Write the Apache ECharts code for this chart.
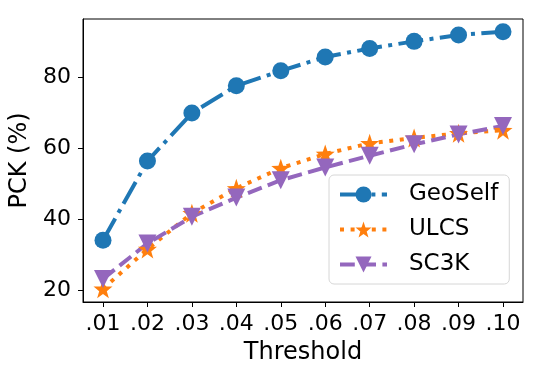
<!DOCTYPE html>
<html>
<head>
<meta charset="utf-8">
<script src="https://cdn.jsdelivr.net/npm/echarts@6/dist/echarts.min.js"></script>
<style>
  html, body { margin: 0; padding: 0; background: #fff; }
  #main { width: 550px; height: 370px; }
</style>
</head>
<body>
<div id="main"></div>
<script>
var myChart = echarts.init(document.getElementById("main"));

const thresholds = [0.01, 0.02, 0.03, 0.04, 0.05, 0.06, 0.07, 0.08, 0.09, 0.10];
const geoSelf = [34.0, 56.3, 69.8, 77.5, 81.7, 85.6, 88.0, 90.0, 91.8, 92.7];
const ulcs = [20.3, 31.5, 41.6, 48.6, 54.3, 58.3, 61.3, 62.8, 64.1, 65.0];
const sc3k = [23.1, 33.1, 40.6, 46.0, 50.9, 54.5, 57.8, 61.0, 63.8, 66.2];
const yTicks = [20, 40, 60, 80];

const font = "DejaVu Sans";

function pairs(vals) {
  return thresholds.map(function (t, i) { return [t, vals[i]]; });
}

option = {
  animation: false,
  textStyle: { fontFamily: font, color: "#000" },
  grid: {
    left: 83, right: 27, top: 19, bottom: 67,
    show: true, borderColor: "#000", borderWidth: 1
  },
  legend: {
    orient: "vertical",
    left: 329,
    top: 175,
    padding: [8, 11, 8, 9],
    borderColor: "#d6d6d6",
    borderWidth: 1,
    borderRadius: 5,
    itemWidth: 47,
    itemHeight: 20,
    itemGap: 12,
    lineStyle: { width: 4 },
    textStyle: { fontFamily: font, fontSize: 23, color: "#000", padding: [0, 0, 0, 17] },
    data: ["GeoSelf", "ULCS", "SC3K"]
  },
  xAxis: {
    type: "value",
    min: 0.0055,
    max: 0.1045,
    name: "Threshold",
    nameLocation: "middle",
    nameGap: 39,
    nameTextStyle: { fontSize: 24, color: "#000" },
    axisLine: { show: true, onZero: false, lineStyle: { color: "#000" } },
    axisTick: { show: true, length: 5, lineStyle: { color: "#000" }, customValues: thresholds },
    axisLabel: {
      fontSize: 22, color: "#000", margin: 11,
      customValues: thresholds,
      formatter: function (v) { return v.toFixed(2).slice(1); }
    },
    splitLine: { show: false }
  },
  yAxis: {
    type: "value",
    min: 16.6,
    max: 96.3,
    name: "PCK (%)",
    nameLocation: "middle",
    nameGap: 45,
    nameTextStyle: { fontSize: 24, color: "#000" },
    axisLine: { show: true, lineStyle: { color: "#000" } },
    axisTick: { show: true, length: 5, lineStyle: { color: "#000" }, customValues: yTicks },
    axisLabel: { fontSize: 22, color: "#000", margin: 12, customValues: yTicks },
    splitLine: { show: false }
  },
  series: [
    {
      name: "GeoSelf",
      type: "line",
      data: pairs(geoSelf),
      symbol: "circle",
      symbolSize: 17,
      itemStyle: { color: "#1f77b4" },
      lineStyle: { color: "#1f77b4", width: 4, type: [25, 6.4, 4, 6.4] },
      z: 3
    },
    {
      name: "ULCS",
      type: "line",
      data: pairs(ulcs),
      symbol: "path://M0,-10 L2.35,-3.24 L9.51,-3.09 L3.8,1.24 L5.88,8.09 L0,4 L-5.88,8.09 L-3.8,1.24 L-9.51,-3.09 L-2.35,-3.24 Z",
      symbolSize: 19,
      itemStyle: { color: "#ff7f0e" },
      lineStyle: { color: "#ff7f0e", width: 4, type: [4, 6.6] },
      z: 2
    },
    {
      name: "SC3K",
      type: "line",
      data: pairs(sc3k),
      symbol: "triangle",
      symbolRotate: 180,
      symbolSize: 18,
      itemStyle: { color: "#9467bd" },
      lineStyle: { color: "#9467bd", width: 4, type: [14.8, 6.4] },
      z: 2
    }
  ]
};

myChart.setOption(option);
</script>
</body>
</html>
